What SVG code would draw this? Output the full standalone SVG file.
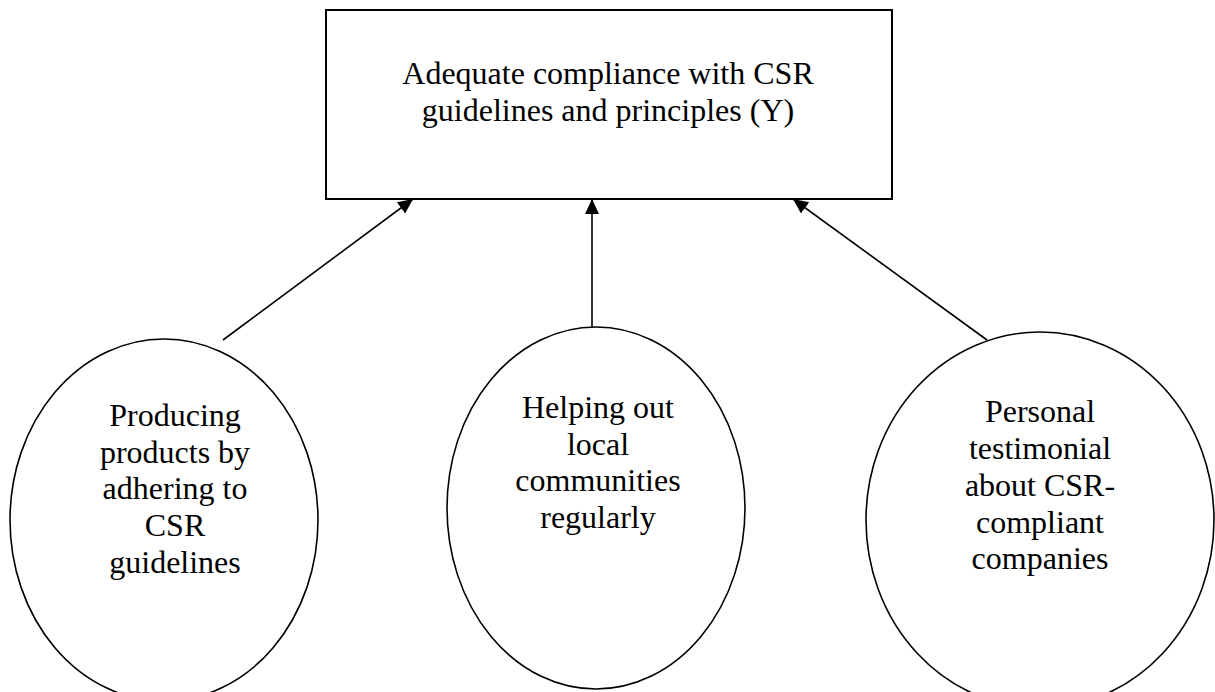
<svg xmlns="http://www.w3.org/2000/svg" width="1215" height="692" viewBox="0 0 1215 692">
<style>
.box{fill:#fff;stroke:#000;stroke-width:2}
.node{fill:#fff;stroke:#000;stroke-width:1.6}
.lbl{font-family:"Liberation Serif","Times New Roman",serif;font-size:32px;fill:#000;text-anchor:middle}
.edge{stroke:#000;stroke-width:1.6;fill:none;marker-end:url(#ah)}
</style>
<defs>
<marker id="ah" markerUnits="userSpaceOnUse" markerWidth="16" markerHeight="16" refX="15" refY="7" orient="auto">
<path d="M0,0 L15,7 L0,14 Z" fill="#000"/>
</marker>
</defs>
<rect width="1215" height="692" fill="#fff"/>
<g id="target">
<rect class="box" x="326" y="10" width="566" height="189"/>
<text class="lbl" x="608" y="84">Adequate compliance with CSR</text>
<text class="lbl" x="608" y="121">guidelines and principles (Y)</text>
</g>
<g id="n1">
<ellipse class="node" cx="164" cy="520" rx="154" ry="181"/>
<text class="lbl" x="175" y="426">Producing</text>
<text class="lbl" x="175" y="463">products by</text>
<text class="lbl" x="175" y="499">adhering to</text>
<text class="lbl" x="175" y="536">CSR</text>
<text class="lbl" x="175" y="573">guidelines</text>
</g>
<g id="n2">
<ellipse class="node" cx="596" cy="508" rx="149" ry="181"/>
<text class="lbl" x="598" y="418">Helping out</text>
<text class="lbl" x="598" y="455">local</text>
<text class="lbl" x="598" y="491">communities</text>
<text class="lbl" x="598" y="528">regularly</text>
</g>
<g id="n3">
<ellipse class="node" cx="1040" cy="520" rx="174" ry="188"/>
<text class="lbl" x="1040" y="422">Personal</text>
<text class="lbl" x="1040" y="459">testimonial</text>
<text class="lbl" x="1040" y="496">about CSR-</text>
<text class="lbl" x="1040" y="533">compliant</text>
<text class="lbl" x="1040" y="569">companies</text>
</g>
<g id="connectors">
<line class="edge" x1="223" y1="340" x2="413" y2="199"/>
<line class="edge" x1="592" y1="327" x2="592" y2="199"/>
<line class="edge" x1="987" y1="340" x2="793" y2="199"/>
</g>
</svg>
